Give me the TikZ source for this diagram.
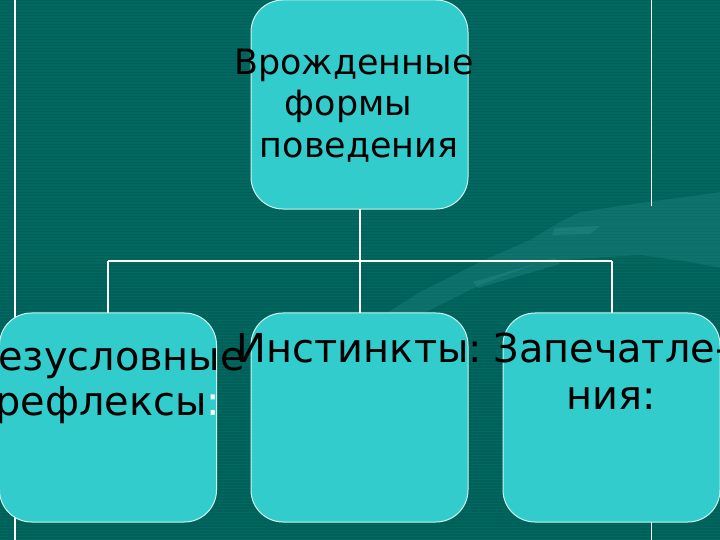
\documentclass[tikz,border=0pt]{standalone}
\usepackage{fontspec}
\setmainfont{DejaVu Sans}
\definecolor{bgteal}{HTML}{03665F}
\definecolor{stripe}{HTML}{00605A}
\definecolor{boxfill}{HTML}{33CCCC}
\definecolor{boxline}{HTML}{CCF5F0}
\definecolor{handc}{HTML}{3AA39A}
\tikzset{
  chartbox/.style={draw=boxline, line width=1bp, fill=boxfill, rounded corners=32bp,
    minimum width=217bp, minimum height=209bp, inner sep=0pt, outer sep=0pt},
  link/.style={draw=white, line width=2bp},
  rule/.style={draw=white, line width=1.2bp},
  toptext/.style={font=\fontsize{35}{41}\selectfont, text=black, anchor=base, inner sep=0pt, align=center},
  bottext/.style={font=\fontsize{40}{46}\selectfont, text=black, anchor=base, inner sep=0pt, align=center},
}
\begin{document}
\begin{tikzpicture}[x=1bp, y=-1bp]
\useasboundingbox (0,0) rectangle (720,540);
\fill[bgteal] (0,0) rectangle (720,540);
\foreach \k in {0,3,...,537} { \fill[stripe] (0,\k) rectangle (720,\k+1.5); }
% faint hand decoration
\fill[handc, opacity=0.22] (560,222) -- (580,212) -- (640,203) -- (700,195) -- (720,192)
  -- (720,268) -- (690,262) -- (640,255) -- (590,258) -- (540,262) -- (480,285) -- (420,315)
  -- (380,340) -- (360,330) -- (420,292) -- (480,262) -- (530,240) -- cycle;
\fill[handc, opacity=0.25] (555,228) -- (600,226) -- (590,234) -- (552,235) -- cycle;
\fill[handc, opacity=0.25] (473,282) -- (555,258) -- (560,264) -- (478,288) -- cycle;
% vertical rules
\coordinate (l1) at (15,0); \coordinate (l2) at (15,540);
\draw[rule] (l1) -- (l2);
\coordinate (r1) at (651.5,0); \coordinate (r2) at (651.5,206);
\coordinate (r3) at (651.5,520); \coordinate (r4) at (651.5,540);
\draw[rule] (r1) -- (r2);
\draw[rule] (r3) -- (r4);
% connectors
\coordinate (hub) at (359.5,261);
\coordinate (hl) at (108,261);
\coordinate (hr) at (611.5,261);
% boxes
\node[chartbox] (top) at (359.5,104.5) {};
\node[chartbox] (b1) at (108,417.5) {};
\node[chartbox] (b2) at (359.5,417.5) {};
\node[chartbox] (b3) at (611.5,417.5) {};
\draw[link] (top.south) -- (hub);
\draw[link] (hl) -- (hr);
\draw[link] (hl) -- (b1.north);
\draw[link] (hub) -- (b2.north);
\draw[link] (hr) -- (b3.north);
% texts
\node[toptext] (t1) at (354,75) {Врожденные};
\node[toptext] (t2) at (354,116) {формы };
\node[toptext] (t3) at (359,158) {поведения};
\node[bottext] (u1) at (108,370) {Безусловные};
\node[bottext] (u2) at (108,415) {рефлексы\textcolor{white}{:}};
\node[bottext] (v1) at (359.5,362) {Инстинкты:};
\node[bottext] (w1) at (611.5,362) {Запечатле-};
\node[bottext] (w2) at (611.5,409) {ния:};
\end{tikzpicture}
\end{document}
